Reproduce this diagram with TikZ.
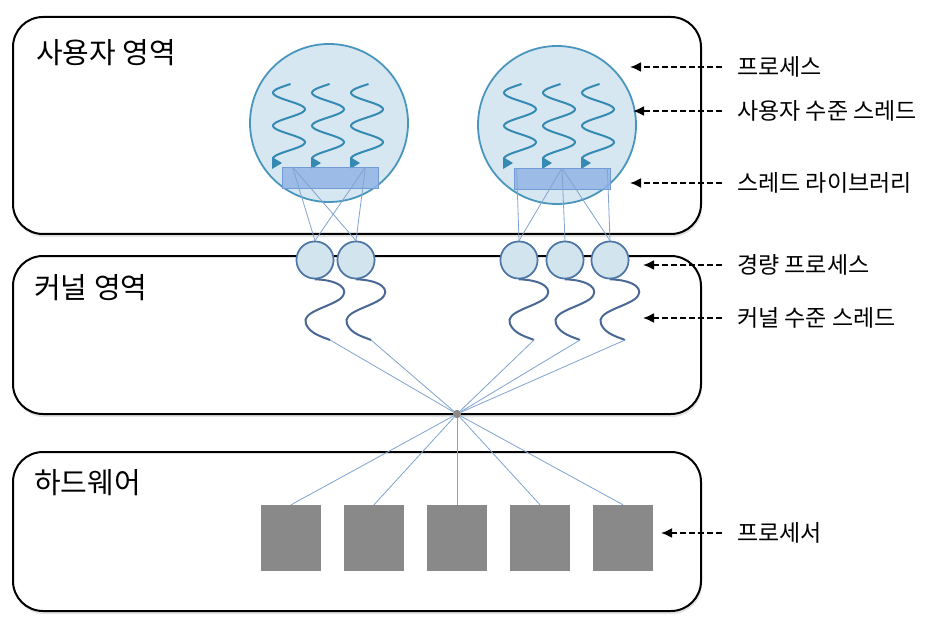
\documentclass[tikz,border=0pt]{standalone}
\usepackage{fontspec}
\setmainfont{Noto Sans CJK KR}
\usetikzlibrary{shadows,arrows.meta}

\definecolor{procfill}{RGB}{214,231,241}
\definecolor{procline}{RGB}{72,150,190}
\definecolor{thread}{RGB}{52,138,178}
\definecolor{libfill}{RGB}{146,181,230}
\definecolor{libline}{RGB}{112,155,214}
\definecolor{lwpfill}{RGB}{210,229,239}
\definecolor{lwpline}{RGB}{78,118,165}
\definecolor{kthread}{RGB}{74,104,150}
\definecolor{link}{RGB}{128,163,208}
\definecolor{cpugray}{RGB}{137,137,137}

\begin{document}
\begin{tikzpicture}[x=1pt,y=-1pt,
	area/.style={draw=black,line width=2pt,rounded corners=30pt,fill=white,
		drop shadow={opacity=0.22,shadow xshift=1pt,shadow yshift=-3pt}},
	title/.style={anchor=west,inner sep=0pt,font=\fontsize{29}{33}\selectfont},
	tag/.style={anchor=west,inner sep=0pt,font=\fontsize{23}{27}\selectfont},
	pointer/.style={-{Latex[length=11pt,width=10pt]},dash pattern=on 6pt off 3pt,line width=1.9pt},
	proc/.style={circle,draw=procline,line width=1.8pt,fill=procfill,minimum size=158pt,inner sep=0pt},
	lib/.style={draw=libline,line width=0.8pt,fill=libfill,fill opacity=0.85,minimum width=96pt,minimum height=21pt,inner sep=0pt},
	lwp/.style={circle,draw=lwpline,line width=1.6pt,fill=lwpfill,minimum size=37pt,inner sep=0pt},
	cpu/.style={fill=cpugray,minimum width=60pt,minimum height=66pt,inner sep=0pt},
	link/.style={draw=link,line width=0.8pt}]
\useasboundingbox (0,0) rectangle (936,628);

% three areas
\draw[area] (13,17) rectangle (701,234);
\draw[area] (13,256) rectangle (701,414);
\draw[area] (13,452) rectangle (701,611);
\node[title] (user) at (36,53) {사용자 영역};
\node[title] (kern) at (34,288) {커널 영역};
\node[title] (hw) at (34,483) {하드웨어};

% processes with user threads
\node[proc] (procA) at (329,123) {};
\node[proc] (procB) at (557,125) {};
\foreach \c in {289,328,367,520,559,598} {
	\draw[thread,line width=2pt] plot[domain=84:160,samples=70,variable=\t] ({\c-16*sin(10.909*(\t-84.5))},\t);
	\fill[thread] (\c-17,157) -- (\c-17,169) -- (\c-7,163) -- cycle;
}
\node[lib] (libA) at (330,178) {};
\node[lib] (libB) at (562,179) {};

% light-weight processes
\foreach \i/\x in {1/315,2/356,3/519,4/565,5/610} {
	\node[lwp] (l\i) at (\x,260) {};
}
\draw[link] ([xshift=11pt]libA.north west) -- (l1.north);
\draw[link] ([xshift=11pt]libA.north west) -- (l2.north);
\draw[link] ([xshift=-13pt]libA.north east) -- (l1.north);
\draw[link] ([xshift=-13pt]libA.north east) -- (l2.north);
\draw[link] ([xshift=3pt]libB.north west) -- (l3.north);
\foreach \i in {3,4,5} \draw[link] (libB.north) -- (l\i.north);
\draw[link] ([xshift=-3pt]libB.north east) -- (l5.north);

% kernel threads
\node[circle,fill=cpugray,minimum size=8pt,inner sep=0pt] (hub) at (457,414) {};
\foreach \i/\x in {1/315,2/356,3/519,4/565,5/610} {
	\draw[kthread,line width=2pt] (l\i.south) .. controls (\x+25,280) and (\x+36,290) .. (\x+25,299)
		.. controls (\x+12,308) and (\x-14,312) .. (\x-9,324)
		.. controls (\x-5,334) and (\x+8,337) .. (\x+15,340) coordinate (k\i);
	\draw[link] (k\i) -- (hub);
	\node[lwp] at (l\i) {};
}

% processors
\foreach \i/\x in {1/291,2/374,3/457,4/540,5/623} {
	\node[cpu] (p\i) at (\x,538) {};
	\draw[link] (hub) -- (p\i.north);
}
\node[circle,fill=cpugray,minimum size=8pt,inner sep=0pt] at (hub) {};

% labels on the right
\node[tag] (t1) at (737,67) {프로세스};
\node[tag] (t2) at (737,111) {사용자 수준 스레드};
\node[tag] (t3) at (737,183) {스레드 라이브러리};
\node[tag] (t4) at (737,265) {경량 프로세스};
\node[tag] (t5) at (737,318) {커널 수준 스레드};
\node[tag] (t6) at (737,533) {프로세서};
\coordinate (a1) at (630,67);
\coordinate (a2) at (633,111);
\coordinate (a3) at (630,183);
\coordinate (a4) at (643,265);
\coordinate (a5) at (643,318);
\coordinate (a6) at (661,533);
\foreach \i in {1,...,6} \draw[pointer] ([xshift=-15pt]t\i.west) -- (a\i);

\end{tikzpicture}
\end{document}
